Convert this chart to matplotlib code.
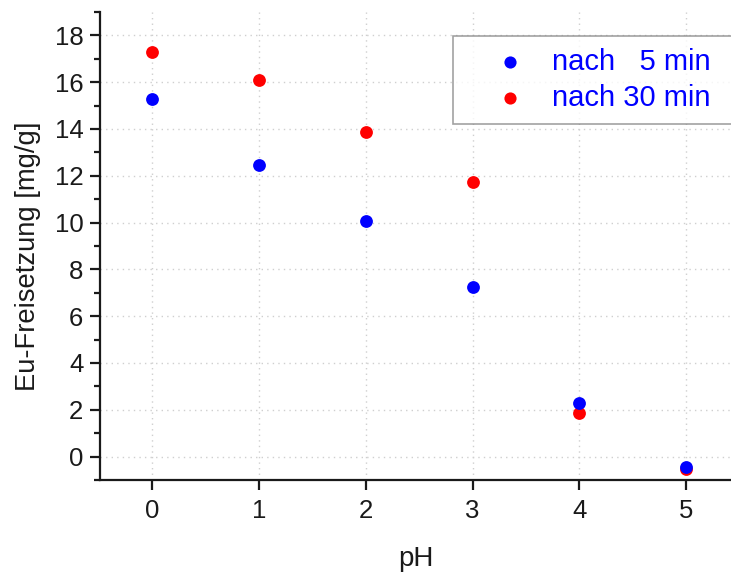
import matplotlib
matplotlib.use("Agg")
import matplotlib.pyplot as plt
from matplotlib.ticker import MultipleLocator

plt.rcParams['font.family'] = ['Liberation Sans', 'DejaVu Sans']

ph = [0, 1, 2, 3, 4, 5]
release_5min = [15.3, 12.47, 10.07, 7.25, 2.3, -0.43]
release_30min = [17.28, 16.08, 13.87, 11.72, 1.88, -0.51]
labels = ["nach   5 min", "nach 30 min"]

fig = plt.figure(figsize=(7.31, 5.74), dpi=100)
ax = fig.add_axes([100 / 731, 94 / 574, 1 - 100 / 731, (480 - 12) / 574])

ax.scatter(ph, release_5min, s=85, color="#0000ff", zorder=3, label=labels[0], linewidths=0)
ax.scatter(ph, release_30min, s=85, color="#ff0000", zorder=2, label=labels[1], linewidths=0)

ax.set_xlim(-0.49, 5.42)
ax.set_ylim(-1, 19)
ax.xaxis.set_major_locator(MultipleLocator(1))
ax.yaxis.set_major_locator(MultipleLocator(2))
ax.yaxis.set_minor_locator(MultipleLocator(1))

ax.grid(True, which="major", linestyle=(0, (1, 3)), color="#cfcfcf", linewidth=1)
ax.set_axisbelow(True)

for side in ("top", "right"):
    ax.spines[side].set_visible(False)
for side in ("left", "bottom"):
    ax.spines[side].set_linewidth(1.6)
    ax.spines[side].set_color("#1a1a1a")

ax.tick_params(axis="both", which="major", direction="out", length=7, width=1.6,
               labelsize=18.5, colors="#1a1a1a")
ax.tick_params(axis="x", which="major", pad=7)
ax.tick_params(axis="y", which="major", pad=5)
ax.tick_params(axis="y", which="minor", direction="out", length=4, width=1.6, colors="#1a1a1a")

ax.set_xlabel("pH", fontsize=20, labelpad=16, color="#1a1a1a")
ax.set_ylabel("Eu-Freisetzung [mg/g]", fontsize=19.7, color="#1a1a1a")
ax.yaxis.set_label_coords(-59 / 631, 0.479)

fs = 21
leg = ax.legend(loc="upper left",
                bbox_to_anchor=(453 / 731, 1 - 36 / 574, 0.45, 0.0),
                bbox_transform=fig.transFigure, mode="expand",
                fontsize=fs, frameon=True, fancybox=False, edgecolor="#8a8a8a",
                borderpad=0.4, handletextpad=-0.1, borderaxespad=0,
                labelspacing=0.28, handlelength=3.1, scatterpoints=1,
                markerscale=0.95)
leg.get_frame().set_linewidth(1.2)
for t in leg.get_texts():
    t.set_color("#0000ff")

fig.savefig("out.png", dpi=100)
